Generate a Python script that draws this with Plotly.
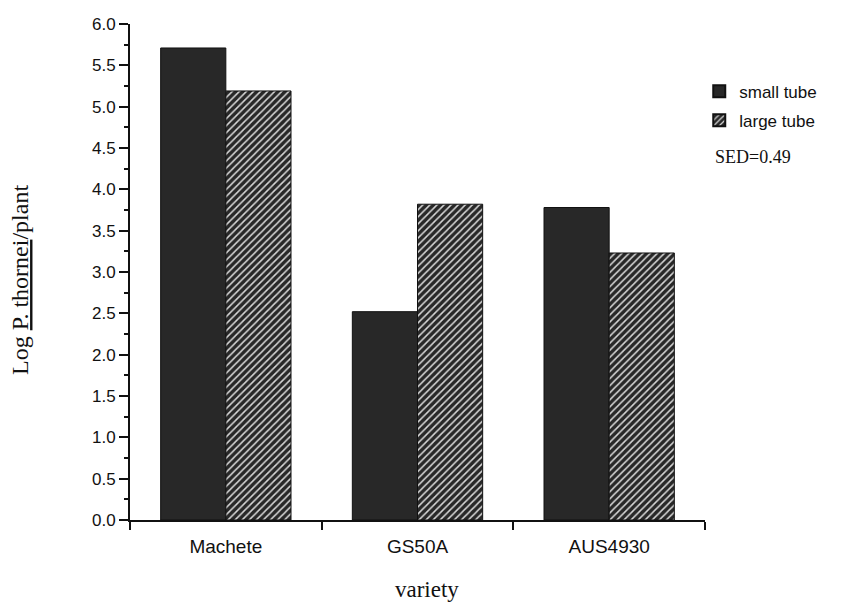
import plotly.graph_objects as go

varieties = ["Machete", "GS50A", "AUS4930"]
small_tube = [5.71, 2.52, 3.78]
large_tube = [5.19, 3.82, 3.23]
series_names = ["small tube", "large tube"]
y_ticks = [0.0, 0.5, 1.0, 1.5, 2.0, 2.5, 3.0, 3.5, 4.0, 4.5, 5.0, 5.5, 6.0]

dark = "#282828"
sans = "Liberation Sans, Arial, sans-serif"
serif = "Liberation Serif, Times New Roman, serif"

fig = go.Figure()
fig.add_trace(go.Bar(
    x=varieties, y=small_tube, name=series_names[0], legendgroup="a",
    marker=dict(color=dark, line=dict(color="#111111", width=1)),
))
fig.add_trace(go.Bar(
    x=varieties, y=large_tube, name=series_names[1], legendgroup="b",
    marker=dict(color=dark, line=dict(color="#111111", width=1),
                pattern=dict(shape="/", fillmode="replace", bgcolor=dark,
                             fgcolor="#d8d8d8", size=5, solidity=0.3)),
))

fig.update_layout(
    width=843, height=603,
    margin=dict(l=130, r=138, t=24, b=83),
    paper_bgcolor="white", plot_bgcolor="white",
    barmode="group", bargap=0.32, bargroupgap=0,
    font=dict(family=sans, size=17, color="#111111"),
    legend=dict(x=0.99, y=0.90, xanchor="left", yanchor="top",
                font=dict(family=sans, size=17, color="#111111"),
                bgcolor="rgba(0,0,0,0)", itemsizing="constant", tracegroupgap=4),
    showlegend=True,
    xaxis=dict(
        type="category", range=[-0.5, 2.5],
        tickson="boundaries", ticks="outside", ticklen=8, tickwidth=2, tickcolor="#111111",
        ticklabelstandoff=8,
        showline=True, linecolor="#111111", linewidth=2,
        showgrid=False, zeroline=False,
        tickfont=dict(family=sans, size=19, color="#111111"),
    ),
    yaxis=dict(
        range=[0, 6.0], tickvals=y_ticks, tickformat=".1f",
        ticks="outside", ticklen=9, tickwidth=2, tickcolor="#111111",
        minor=dict(dtick=0.25, tick0=0, ticks="outside", ticklen=4, tickwidth=2, tickcolor="#111111"),
        showline=True, linecolor="#111111", linewidth=2,
        showgrid=False, zeroline=False,
        tickfont=dict(family=sans, size=17, color="#111111"),
    ),
    annotations=[
        dict(text="SED=0.49", x=1.014, y=0.732, xref="paper", yref="paper",
             xanchor="left", yanchor="middle", showarrow=False,
             font=dict(family=serif, size=18, color="#111111")),
        dict(text="Log <u>P. thornei</u>/plant", x=-0.1913, y=0.484, xref="paper", yref="paper",
             xanchor="center", yanchor="middle", textangle=-90, showarrow=False,
             font=dict(family=serif, size=24, color="#111111")),
        dict(text="variety", x=0.5165, y=-0.141, xref="paper", yref="paper",
             xanchor="center", yanchor="middle", showarrow=False,
             font=dict(family=serif, size=23, color="#111111")),
    ],
)

fig.write_html("out.html")
